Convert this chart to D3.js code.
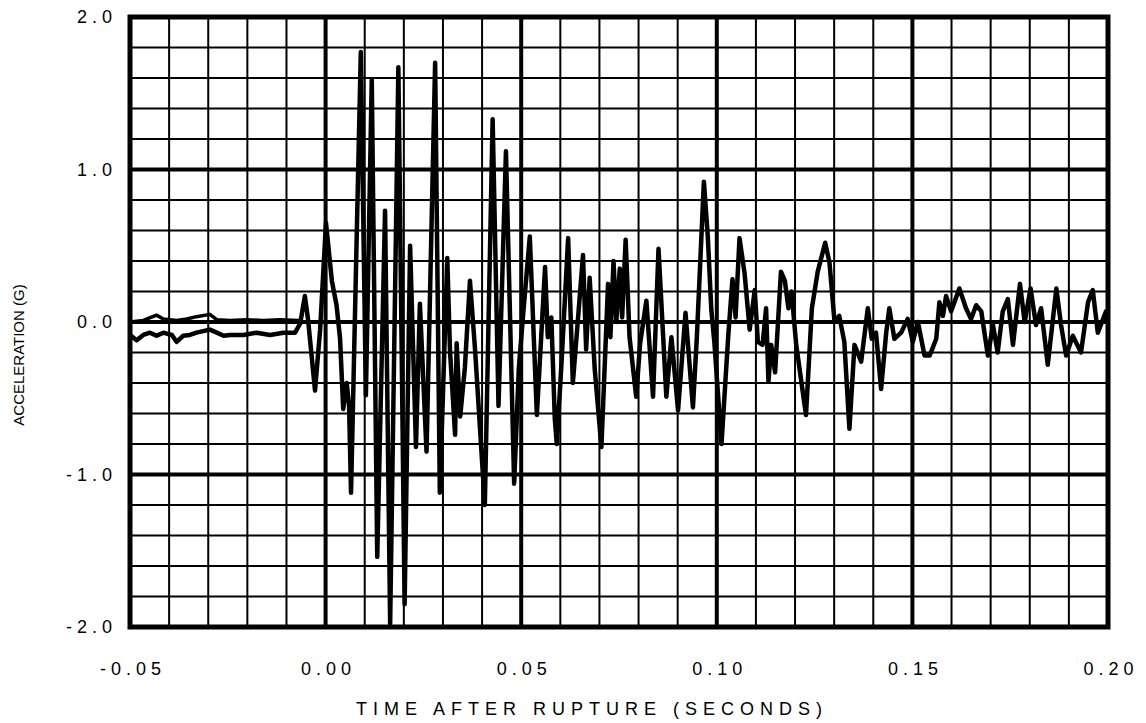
<!DOCTYPE html>
<html>
<head>
<meta charset="utf-8">
<script src="https://cdn.jsdelivr.net/npm/d3@7"></script>
<style>
  body { margin: 0; background: #fff; }
  svg { display: block; }
  .tick-label { font-family: "Liberation Sans", Arial, sans-serif; font-size: 18px; letter-spacing: 5px; fill: #000; }
  .axis-title { font-family: "Liberation Sans", Arial, sans-serif; fill: #000; }
</style>
</head>
<body>
<svg id="chart" width="1146" height="723" viewBox="0 0 1146 723"></svg>
<script>
// Tick values (seconds / g)
const xMajorTicks = [-0.05, 0.00, 0.05, 0.10, 0.15, 0.20];
const yMajorTicks = [-2.0, -1.0, 0.0, 1.0, 2.0];

// Main accelerometer trace
const timeS = [
  -0.0500, -0.0483, -0.0466, -0.0449, -0.0432, -0.0415, -0.0393, -0.0381, -0.0364, -0.0347,
  -0.0330, -0.0296, -0.0278, -0.0261, -0.0244, -0.0210, -0.0176, -0.0142, -0.0108, -0.0078,
  -0.0065, -0.0053, -0.0045, -0.0027, -0.0014, 0.0001, 0.0016, 0.0028, 0.0037, 0.0045,
  0.0054, 0.0060, 0.0065, 0.0090, 0.0103, 0.0118, 0.0132, 0.0152, 0.0165, 0.0186,
  0.0202, 0.0216, 0.0231, 0.0241, 0.0258, 0.0280, 0.0292, 0.0311, 0.0318, 0.0331,
  0.0335, 0.0344, 0.0356, 0.0369, 0.0382, 0.0407, 0.0427, 0.0442, 0.0461, 0.0482,
  0.0494, 0.0505, 0.0522, 0.0540, 0.0561, 0.0568, 0.0577, 0.0586, 0.0591, 0.0603,
  0.0620, 0.0632, 0.0643, 0.0658, 0.0666, 0.0675, 0.0688, 0.0705, 0.0722, 0.0728,
  0.0736, 0.0743, 0.0752, 0.0758, 0.0767, 0.0777, 0.0794, 0.0804, 0.0820, 0.0837,
  0.0851, 0.0871, 0.0884, 0.0901, 0.0920, 0.0939, 0.0949, 0.0967, 0.0977, 0.0986,
  0.0994, 0.1012, 0.1029, 0.1040, 0.1048, 0.1058, 0.1071, 0.1084, 0.1097, 0.1105,
  0.1117, 0.1126, 0.1132, 0.1139, 0.1149, 0.1164, 0.1174, 0.1183, 0.1191, 0.1203,
  0.1228, 0.1243, 0.1258, 0.1277, 0.1288, 0.1301, 0.1313, 0.1326, 0.1339, 0.1352,
  0.1369, 0.1386, 0.1396, 0.1407, 0.1420, 0.1433, 0.1441, 0.1454, 0.1471, 0.1488,
  0.1501, 0.1514, 0.1531, 0.1544, 0.1561, 0.1569, 0.1578, 0.1586, 0.1599, 0.1620,
  0.1637, 0.1650, 0.1663, 0.1676, 0.1693, 0.1706, 0.1718, 0.1731, 0.1744, 0.1757,
  0.1775, 0.1787, 0.1802, 0.1816, 0.1829, 0.1846, 0.1868, 0.1880, 0.1893, 0.1910,
  0.1931, 0.1949, 0.1961, 0.1974, 0.1995, 0.2000
];
const accelG = [
  -0.085, -0.12, -0.085, -0.07, -0.09, -0.07, -0.085, -0.13, -0.09, -0.085,
  -0.07, -0.05, -0.07, -0.09, -0.085, -0.085, -0.07, -0.085, -0.07, -0.07,
  -0.01, 0.17, 0.02, -0.45, -0.05, 0.65, 0.27, 0.11, -0.11, -0.57,
  -0.40, -0.55, -1.12, 1.77, -0.48, 1.59, -1.54, 0.73, -1.98, 1.67,
  -1.85, 0.50, -0.82, 0.12, -0.85, 1.70, -1.12, 0.42, -0.19, -0.74,
  -0.14, -0.62, -0.30, 0.27, -0.18, -1.20, 1.33, -0.55, 1.12, -1.06,
  -0.30, 0.05, 0.56, -0.61, 0.36, -0.10, 0.03, -0.64, -0.80, -0.27,
  0.55, -0.40, -0.05, 0.44, -0.18, 0.29, -0.31, -0.82, 0.25, -0.10,
  0.40, 0.00, 0.35, 0.03, 0.54, -0.10, -0.49, -0.14, 0.14, -0.49,
  0.48, -0.49, -0.10, -0.58, 0.06, -0.56, -0.10, 0.92, 0.56, 0.08,
  -0.14, -0.80, -0.10, 0.28, 0.03, 0.55, 0.32, -0.05, 0.21, -0.13,
  -0.15, 0.09, -0.39, -0.15, -0.33, 0.33, 0.27, 0.09, 0.20, -0.15,
  -0.61, 0.09, 0.33, 0.52, 0.39, 0.00, 0.04, -0.13, -0.70, -0.15,
  -0.26, 0.09, -0.11, -0.07, -0.44, -0.07, 0.09, -0.11, -0.07, 0.02,
  -0.13, 0.00, -0.22, -0.22, -0.11, 0.13, 0.04, 0.17, 0.07, 0.22,
  0.09, 0.02, 0.11, 0.07, -0.22, -0.02, -0.20, 0.07, 0.15, -0.15,
  0.25, 0.00, 0.22, -0.02, 0.09, -0.28, 0.22, -0.02, -0.22, -0.09,
  -0.20, 0.13, 0.21, -0.07, 0.07, 0.00
];

// Second (pre-rupture) trace riding just above zero
const offsetTimeS = [
  -0.0500, -0.0466, -0.0432, -0.0415, -0.0381, -0.0355, -0.0330, -0.0296, -0.0278, -0.0244,
  -0.0202, -0.0159, -0.0117, -0.0070, -0.0061
];
const offsetAccelG = [
  0.00, 0.01, 0.045, 0.02, 0.01, 0.02, 0.035, 0.05, 0.015, 0.01,
  0.015, 0.01, 0.015, 0.01, -0.01
];

const svg = d3.select('#chart');
const plotLeft = 130, plotTop = 17, plotWidth = 978, plotHeight = 610;

const x = d3.scaleLinear().domain([-0.05, 0.20]).range([plotLeft, plotLeft + plotWidth]);
const y = d3.scaleLinear().domain([-2, 2]).range([plotTop + plotHeight, plotTop]);

// Minor grid (0.01 s, 0.2 g)
const grid = svg.append('g');
grid.selectAll('line.vminor')
    .data(x.ticks(25))
    .enter()
    .append('line')
    .attr('x1', d => x(d)).attr('x2', d => x(d))
    .attr('y1', plotTop).attr('y2', plotTop + plotHeight)
    .attr('stroke', '#000').attr('stroke-width', 2);
grid.selectAll('line.hminor')
    .data(y.ticks(20))
    .enter()
    .append('line')
    .attr('y1', d => y(d)).attr('y2', d => y(d))
    .attr('x1', plotLeft).attr('x2', plotLeft + plotWidth)
    .attr('stroke', '#000').attr('stroke-width', 2);

// Major grid
grid.selectAll('line.vmajor')
    .data(xMajorTicks)
    .enter()
    .append('line')
    .attr('x1', d => x(d)).attr('x2', d => x(d))
    .attr('y1', plotTop).attr('y2', plotTop + plotHeight)
    .attr('stroke', '#000').attr('stroke-width', 4);
grid.selectAll('line.hmajor')
    .data(yMajorTicks)
    .enter()
    .append('line')
    .attr('y1', d => y(d)).attr('y2', d => y(d))
    .attr('x1', plotLeft).attr('x2', plotLeft + plotWidth)
    .attr('stroke', '#000').attr('stroke-width', 4);

// Traces
svg.append('clipPath').attr('id', 'plot-clip')
    .append('rect').attr('x', plotLeft).attr('y', plotTop).attr('width', plotWidth).attr('height', plotHeight);

const line = d3.line()
    .x(d => x(d[0]))
    .y(d => y(d[1]));

svg.append('path')
    .datum(d3.zip(offsetTimeS, offsetAccelG))
    .attr('d', line)
    .attr('clip-path', 'url(#plot-clip)')
    .attr('fill', 'none')
    .attr('stroke', '#000')
    .attr('stroke-width', 3.5)
    .attr('stroke-linejoin', 'round');

svg.append('path')
    .datum(d3.zip(timeS, accelG))
    .attr('d', line)
    .attr('clip-path', 'url(#plot-clip)')
    .attr('fill', 'none')
    .attr('stroke', '#000')
    .attr('stroke-width', 4.5)
    .attr('stroke-linejoin', 'round');

// Frame
svg.append('rect')
    .attr('x', plotLeft).attr('y', plotTop)
    .attr('width', plotWidth).attr('height', plotHeight)
    .attr('fill', 'none')
    .attr('stroke', '#000')
    .attr('stroke-width', 5);

// Axes (labels only)
const xAxis = d3.axisBottom(x)
    .tickValues(xMajorTicks)
    .tickSize(0)
    .tickPadding(35)
    .tickFormat(d => d.toFixed(2));
svg.append('g')
    .attr('transform', 'translate(0,' + (plotTop + plotHeight) + ')')
    .call(xAxis)
    .call(g => g.select('.domain').remove())
    .selectAll('text')
    .attr('class', 'tick-label')
    .attr('dx', '2.5px');

const yAxis = d3.axisLeft(y)
    .tickValues(yMajorTicks)
    .tickSize(0)
    .tickPadding(13)
    .tickFormat(d => d.toFixed(1));
svg.append('g')
    .attr('transform', 'translate(' + plotLeft + ',0)')
    .call(yAxis)
    .call(g => g.select('.domain').remove())
    .selectAll('text')
    .attr('class', 'tick-label');

// Titles
svg.append('text')
    .attr('class', 'axis-title')
    .attr('x', 592).attr('y', 715)
    .attr('text-anchor', 'middle')
    .style('font-size', '18px')
    .style('letter-spacing', '6px')
    .text('TIME AFTER RUPTURE (SECONDS)');

svg.append('text')
    .attr('class', 'axis-title')
    .attr('transform', 'translate(24,355) rotate(-90)')
    .attr('text-anchor', 'middle')
    .style('font-size', '15px')
    .text('ACCELERATION (G)');
</script>
</body>
</html>
